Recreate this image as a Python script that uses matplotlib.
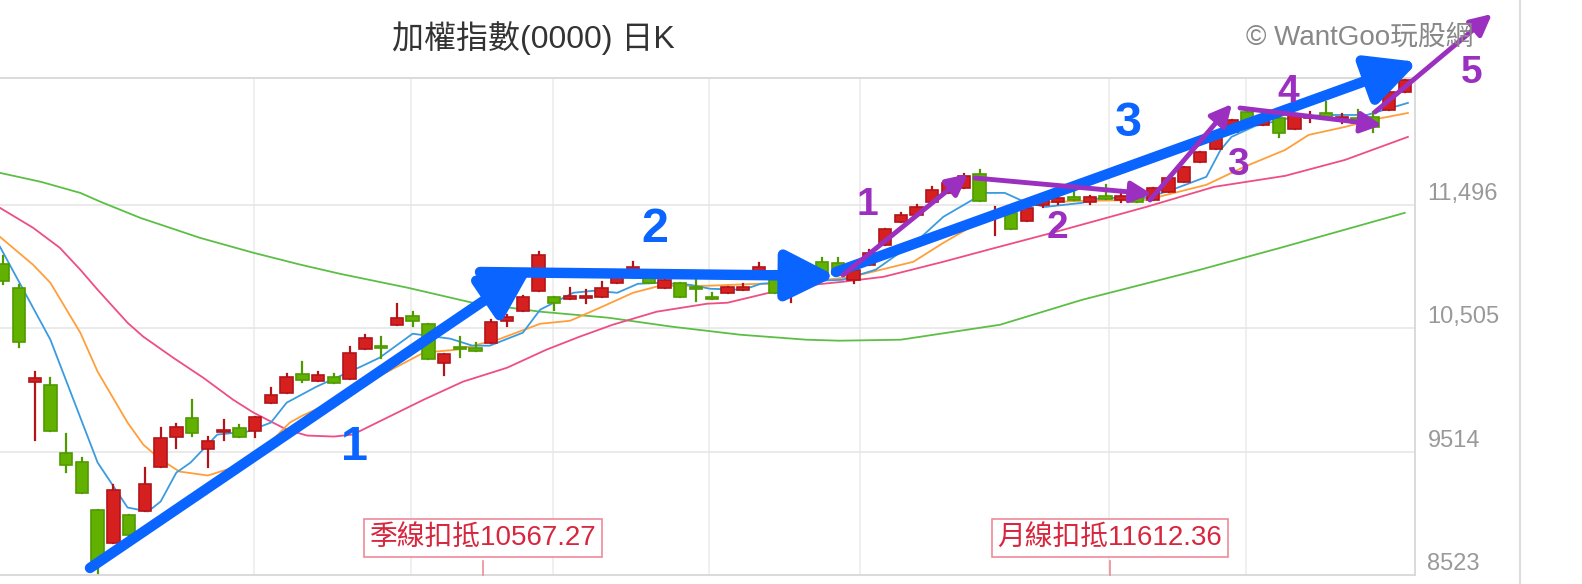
import matplotlib
matplotlib.use("Agg")
import matplotlib.pyplot as plt
from matplotlib.patches import Rectangle
from matplotlib.lines import Line2D

plt.rcParams['font.family'] = ['Liberation Sans', 'Noto Sans CJK TC', 'DejaVu Sans']

# candles: open, high, low, close
opens  = [11023,10830,10076,10052,9506,9434,9049,8784,9001,9041,9394,9635,9787,9538,9675,9707,9683,9907,9988,10140,
          10084,10116,10100,10341,10357,10533,10605,10541,10228,10357,10349,10389,10565,10646,10806,10758,10742,10750,10758,10870,
          10942,10967,10830,10870,10830,10750,10790,10814,10934,10967,10790,10894,11039,11031,10894,11015,11175,11360,11416,11520,
          11592,11632,11745,11416,11432,11368,11496,11520,11560,11520,11568,11536,11608,11536,11600,11681,11841,11945,12082,12242,
          12138,12194,12106,12194,12234,12186,12194,12202,12258,12403]
highs  = [11087,10854,10156,10108,9659,9466,9049,9249,9001,9386,9707,9739,9931,9635,9771,9731,9795,10028,10140,10236,
          10156,10140,10357,10453,10437,10702,10638,10541,10300,10437,10389,10573,10613,10766,11115,10758,10830,10814,10878,10942,
          11039,10967,10894,10870,10894,10790,10838,10862,11031,10967,10862,10990,11071,11071,10975,11135,11304,11432,11496,11640,
          11697,11745,11777,11480,11432,11472,11536,11560,11616,11568,11657,11616,11608,11632,11713,11801,11921,12058,12178,12258,
          12194,12258,12226,12242,12323,12226,12258,12242,12403,12499]
lows   = [10862,10357,9610,9683,9354,9185,8543,8784,8768,9041,9394,9546,9640,9394,9610,9635,9635,9907,9988,10076,
          10084,10068,10100,10341,10268,10533,10525,10260,10132,10276,10325,10389,10525,10646,10806,10654,10742,10710,10758,10870,
          10942,10870,10830,10758,10726,10742,10790,10814,10934,10790,10718,10894,10934,10942,10870,11015,11175,11360,11416,11520,
          11592,11632,11528,11255,11304,11368,11480,11500,11536,11500,11544,11520,11520,11536,11600,11681,11841,11945,12082,12154,
          12138,12042,12106,12162,12194,12154,12114,12082,12258,12403]
closes = [10886,10397,10108,9683,9410,9185,8639,9209,8848,9257,9626,9715,9667,9602,9691,9635,9795,9972,10116,10092,
          10132,10068,10309,10429,10349,10589,10565,10260,10300,10341,10325,10557,10597,10758,11091,10710,10766,10758,10830,10942,
          10999,10870,10894,10758,10822,10742,10838,10838,10999,10790,10862,10975,10934,10942,10975,11111,11304,11416,11480,11616,
          11673,11729,11528,11432,11304,11472,11536,11552,11536,11560,11544,11568,11520,11632,11713,11801,11921,12058,12178,12154,
          12178,12074,12226,12202,12194,12194,12154,12122,12403,12499]

# moving averages (x in candle index)
ma5_x = [-0.2,3,6,7.9,9.2,10,11,11.9,13.6,15.5,17,18,19.9,22.7,23.9,26,28.4,29.8,30.9,33,34.1,36.2,37.5,39,40.3,41.7,43.6,44.9,47,48.1,
         50,53.3,55.4,58.1,59.7,62.3,63.6,65,66.2,68.5,69.7,72.6,74.2,76.4,77.3,78,79.5,81.7,84,86.6,89.2]
ma5_y = [11159,10413,9426,9065,9033,9113,9346,9426,9651,9675,9747,9907,10036,10196,10268,10461,10421,10365,10365,10469,
         10654,10790,10806,10790,10862,10870,10854,10822,10814,10862,10878,10894,10975,11215,11400,11592,11592,11512,11480,11512,
         11552,11552,11616,11721,11937,12042,12130,12194,12218,12218,12315]
ma10_x = [-0.2,1.9,3.0,4.9,6.0,7.9,8.9,10.0,11.2,13.0,14.6,15.9,17.0,18.2,19.0,20.1,26.7,28.8,31.4,34.1,36.0,37.9,40.0,41.7,44.7,47.9,
          50.0,53.9,57.8,59.7,63.0,65.2,68.5,72.6,76.4,78.8,81.4,82.9,85.2,86.9,89.2]
ma10_y = [11239,11015,10870,10469,10156,9747,9570,9450,9354,9322,9386,9506,9594,9747,9803,9867,10309,10333,10413,10541,
          10565,10670,10790,10846,10846,10862,10862,10918,11039,11191,11432,11512,11528,11536,11657,11801,11937,12058,12122,12178,12234]
ma20_x = [-0.2,1.9,3.6,4.9,6.0,7.9,8.9,10.8,12.7,14.6,15.9,18.0,19.3,21.0,22.2,26.7,29.2,32.0,34.5,36.6,38.7,41.5,44.7,46.0,48.9,50.8,
          53.3,55.9,59.7,63.0,66.6,72.6,76.9,81.4,85.2,89.2]
ma20_y = [11472,11312,11151,10975,10814,10549,10437,10268,10108,9931,9827,9691,9643,9635,9651,9931,10076,10188,10333,10437,
          10533,10638,10702,10710,10798,10846,10878,10918,11039,11151,11271,11480,11641,11729,11857,12042]
ma60_x = [-0.2,2.4,4.9,6.2,8.7,12.5,15.9,18.9,21.4,25.7,29.8,34.1,38.4,42.5,46.8,51.0,53.1,57.0,63.3,68.5,76.0,81.1,89.0]
ma60_y = [11753,11681,11592,11520,11392,11231,11111,11015,10942,10830,10710,10638,10590,10517,10453,10413,10405,10413,10533,
          10733,10975,11151,11432]

yticks = [8523, 9514, 10505, 11496]
ytick_labels = ['8523', '9514', '10,505', '11,496']
grid_x = [15.9, 25.9, 34.9, 44.8, 54.4, 70.2, 78.9]

W, H = 1582, 584
fig = plt.figure(figsize=(W/100, H/100), dpi=100)
ax = fig.add_axes([0, 9/H, 1415/W, 497/H])
ax.set_xlim(-0.2, 89.65)
ax.set_ylim(8523, 12515)

for gx in grid_x:
    ax.axvline(gx, color='#ececec', lw=1.2, zorder=0)
for gy in yticks[1:]:
    ax.axhline(gy, color='#e6e6e6', lw=1.2, zorder=0)

ax.plot(ma60_x, ma60_y, color='#5cbf45', lw=1.3, zorder=2)
ax.plot(ma20_x, ma20_y, color='#ee4d86', lw=1.3, zorder=2)
ax.plot(ma10_x, ma10_y, color='#ff9f3a', lw=1.3, zorder=2)
ax.plot(ma5_x, ma5_y, color='#3a9be0', lw=1.3, zorder=2)

bw = 0.78
for i, (o, h, l, c) in enumerate(zip(opens, highs, lows, closes)):
    up = c >= o
    fc = '#d5201f' if up else '#62b000'
    ec = '#b3141a' if up else '#4f9a00'
    ax.add_line(Line2D([i, i], [l, h], color=ec, lw=1.6, zorder=3))
    b0, b1 = min(o, c), max(o, c)
    hgt = max(b1 - b0, 12)
    ax.add_patch(Rectangle((i - bw/2, b0), bw, hgt, facecolor=fc, edgecolor=ec, lw=1.2, zorder=4))

ax.yaxis.tick_right()
ax.set_yticks(yticks)
ax.set_yticklabels(ytick_labels)
ax.tick_params(axis='y', length=0, pad=9, labelsize=17, labelcolor='#999999')
for lab in ax.get_yticklabels():
    lab.set_verticalalignment('bottom')
ax.tick_params(axis='x', bottom=False, labelbottom=False)
ax.spines['left'].set_visible(False)
for s in ['top', 'bottom', 'right']:
    ax.spines[s].set_color('#d8d8d8')
    ax.spines[s].set_linewidth(1.3)

fig.add_artist(Line2D([1520/W, 1520/W], [0, 1], color='#dddddd', lw=1.5))

def P(x, y):
    return (x, H - y)

fig.text(533/W, 1 - 38/H, '加權指數(0000) 日K', fontsize=23, color='#333333', ha='center', va='center')
fig.text(1360/W, 1 - 38/H, '© WantGoo玩股網', fontsize=20, color='#888888', ha='center', va='center')

def arrow(p0, p1, color, lw, ms):
    ax.annotate('', xy=P(*p1), xytext=P(*p0), xycoords='figure pixels', textcoords='figure pixels',
                arrowprops=dict(arrowstyle='-|>', color=color, lw=lw, mutation_scale=ms, shrinkA=0, shrinkB=0),
                zorder=10, annotation_clip=False)

blue = '#0a64ff'
purple = '#9a2fc0'
arrow((90, 568), (532, 268), blue, 7.5, 75)
arrow((480, 272), (836, 276), blue, 7.5, 75)
arrow((836, 272), (1418, 62), blue, 7.5, 75)
arrow((843, 275), (968, 174), purple, 3.5, 32)
arrow((975, 178), (1152, 194), purple, 3.5, 32)
arrow((1150, 200), (1232, 104), purple, 3.5, 32)
arrow((1240, 108), (1382, 125), purple, 3.5, 32)
arrow((1375, 112), (1492, 14), purple, 3.5, 32)

for t, (x, y) in zip(['1', '2', '3'], [(355, 448), (655, 230), (1128, 123)]):
    fig.text(x/W, 1 - y/H, t, fontsize=35, fontweight='bold', color=blue, ha='center', va='center')
for t, (x, y) in zip(['1', '2', '3', '4', '5'], [(867, 205), (1057, 228), (1238, 165), (1288, 92), (1472, 73)]):
    fig.text(x/W, 1 - y/H, t, fontsize=28, fontweight='bold', color=purple, ha='center', va='center')

for t, x in [('季線扣抵10567.27', 483), ('月線扣抵11612.36', 1110)]:
    fig.text(x/W, 1 - 538/H, t, fontsize=20, color='#d7263d', ha='center', va='center',
             bbox=dict(boxstyle='square,pad=0.22', fc='white', ec='#f08a9a', lw=1.2))
    fig.add_artist(Line2D([x/W, x/W], [1 - 561/H, 1 - 575/H], color='#f08a9a', lw=1.2))

fig.savefig('out.png', dpi=100)
